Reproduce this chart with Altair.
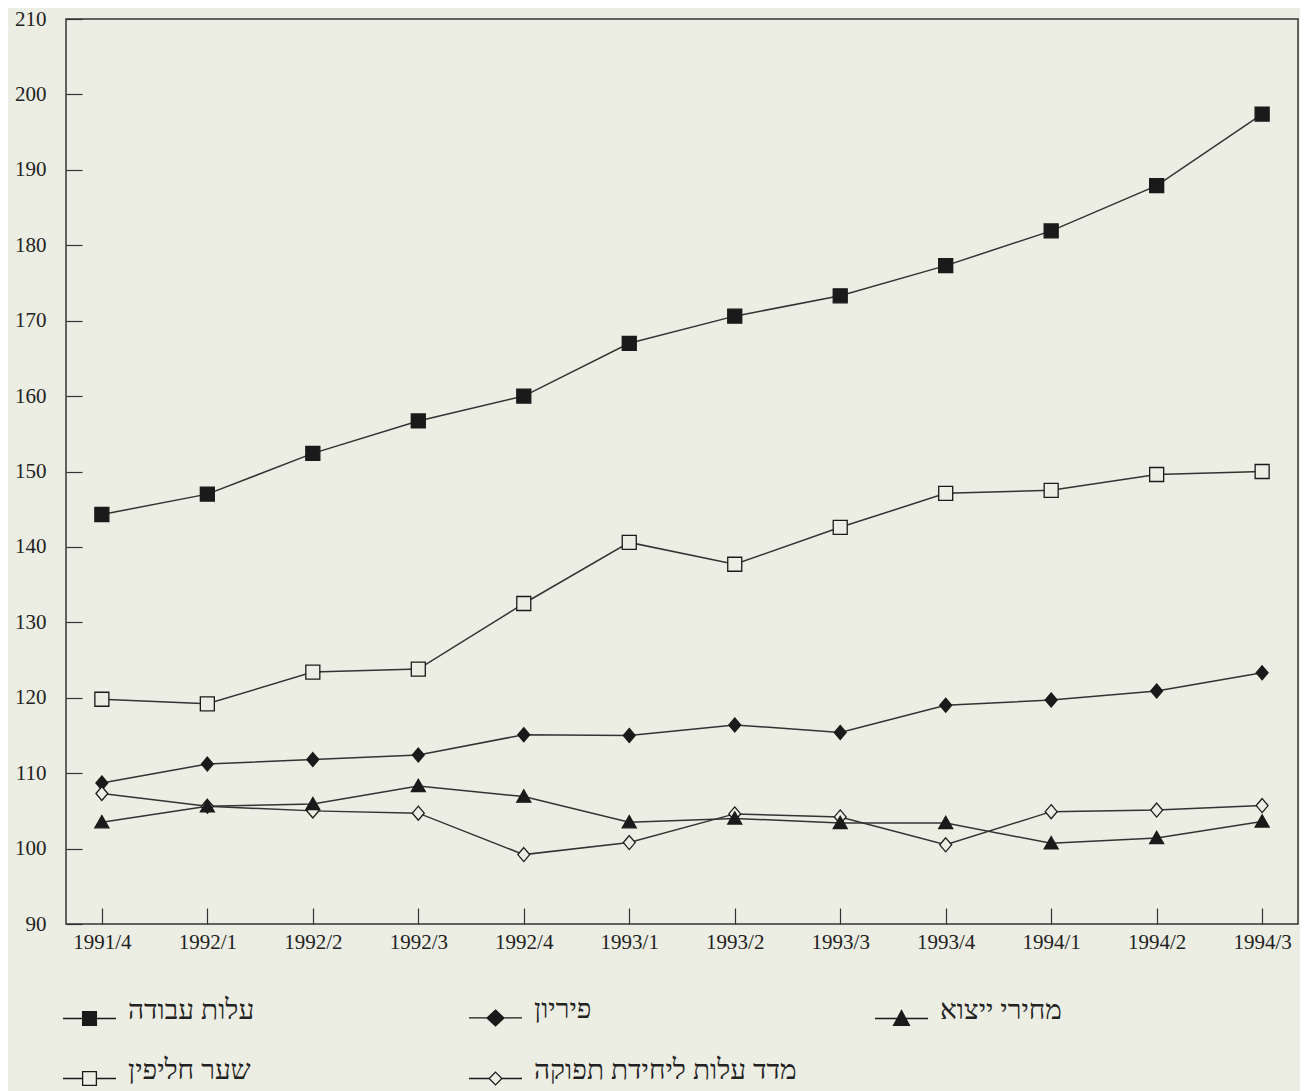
import altair as alt
import pandas as pd

quarters = ["1991/4", "1992/1", "1992/2", "1992/3", "1992/4", "1993/1",
            "1993/2", "1993/3", "1993/4", "1994/1", "1994/2", "1994/3"]

labor_cost = [144.3, 147.0, 152.4, 156.7, 160.0, 167.0, 170.6, 173.3, 177.3, 181.9, 187.9, 197.4]
exchange_rate = [119.8, 119.2, 123.4, 123.8, 132.5, 140.6, 137.7, 142.6, 147.1, 147.5, 149.6, 150.0]
productivity = [108.7, 111.2, 111.8, 112.4, 115.1, 115.0, 116.4, 115.4, 119.0, 119.7, 120.9, 123.3]
export_prices = [103.5, 105.6, 105.9, 108.3, 106.9, 103.5, 104.0, 103.4, 103.4, 100.7, 101.4, 103.6]
unit_cost = [107.3, 105.6, 105.0, 104.7, 99.2, 100.8, 104.6, 104.2, 100.5, 104.9, 105.1, 105.7]

# order = legend column-major order (col1: rows 1-2, col2: rows 1-2, col3)
series_names = ["עלות עבודה", "שער חליפין", "פיריון", "מדד עלות ליחידת תפוקה", "מחירי ייצוא"]
series_values = [labor_cost, exchange_rate, productivity, unit_cost, export_prices]

BG = "#ecede3"
INK = "#1a1a1a"

rows = []
for name, vals in zip(series_names, series_values):
    for i, (q, v) in enumerate(zip(quarters, vals)):
        rows.append({"series": name, "legend_series": name, "quarter": q, "idx": i, "value": v})
df = pd.DataFrame(rows)

fills = [INK, BG, INK, BG, INK]
strokes = [INK] * 5

plot_shapes = [
    "M-1,-1H1V1H-1Z",                 # filled square
    "M-1,-1H1V1H-1Z",                 # open square
    "M0,-1L0.85,0L0,1L-0.85,0Z",      # filled diamond
    "M0,-1L0.85,0L0,1L-0.85,0Z",      # open diamond
    "M0,-0.95L1,0.8L-1,0.8Z",         # triangle
]
plot_sizes = [196, 196, 300, 256, 256]

legend_shapes = [
    "M-1,0H1M-0.26,-0.26H0.26V0.26H-0.26Z",
    "M-1,0H-0.26M0.26,0H1M-0.26,-0.26H0.26V0.26H-0.26Z",
    "M-1,0H1M0,-0.3L0.32,0L0,0.3L-0.32,0Z",
    "M-1,0H-0.24M0.24,0H1M0,-0.24L0.24,0L0,0.24L-0.24,0Z",
    "M-1,0H1M0,-0.3L0.3,0.26L-0.3,0.26Z",
]

x_enc = alt.X("quarter:N", sort=quarters,
              scale=alt.Scale(type="point", padding=0.34),
              axis=alt.Axis(title=None, labelAngle=0, domain=False, tickSize=16,
                            offset=-16, labelPadding=7, tickColor="#333",
                            tickWidth=1.2, labelFont="Liberation Serif",
                            labelFontSize=21, labelColor="#222", grid=False))
y_enc = alt.Y("value:Q",
              scale=alt.Scale(domain=[90, 210], nice=False, zero=False),
              axis=alt.Axis(title=None, values=list(range(90, 211, 10)),
                            domain=False, tickSize=16, offset=-16, labelPadding=20,
                            tickColor="#333", tickWidth=1.2,
                            labelFont="Liberation Serif", labelFontSize=21,
                            labelColor="#222", grid=False))

legend_layer = alt.Chart(df).mark_point(opacity=0, size=2809, strokeWidth=1.3).encode(
    x=x_enc, y=y_enc,
    shape=alt.Shape("legend_series:N", title=None,
                    scale=alt.Scale(domain=series_names, range=legend_shapes),
                    legend=alt.Legend(orient="none", legendX=-4, legendY=971,
                                      columns=3, gridAlign="all",
                                      columnPadding=75, rowPadding=22,
                                      symbolOpacity=1, symbolStrokeColor=INK,
                                      symbolStrokeWidth=1.3, symbolSize=2809,
                                      labelFont="Liberation Serif", labelFontSize=28,
                                      labelColor="#222", labelOffset=11,
                                      labelBaseline="alphabetic", labelLimit=400)),
    fill=alt.Fill("legend_series:N", title=None,
                  scale=alt.Scale(domain=series_names, range=fills)),
    stroke=alt.Stroke("legend_series:N", title=None,
                      scale=alt.Scale(domain=series_names, range=strokes)),
)

lines = alt.Chart(df).mark_line(color="#333", strokeWidth=1.5).encode(
    x=x_enc, y=y_enc, detail="series:N", order="idx:Q")

points = alt.Chart(df).mark_point(filled=False, stroke=INK, strokeWidth=1.3, opacity=1).encode(
    x=x_enc, y=y_enc,
    shape=alt.Shape("series:N", scale=alt.Scale(domain=series_names, range=plot_shapes), legend=None),
    fill=alt.Fill("series:N", scale=alt.Scale(domain=series_names, range=fills), legend=None),
    size=alt.Size("series:N", scale=alt.Scale(domain=series_names, range=plot_sizes), legend=None),
)

chart = alt.layer(legend_layer, lines, points).resolve_scale(
    shape="independent", fill="independent", stroke="independent"
).resolve_legend(
    shape="independent", fill="independent", stroke="independent"
).properties(
    width=1232, height=905,
    background=BG,
    padding={"left": 58, "top": 11, "right": 2, "bottom": 175},
    autosize=alt.AutoSizeParams(type="none"),
).configure_view(stroke="#333", strokeWidth=1.5, fill=BG)

chart.save("out.html", embed_options={"renderer": "svg", "actions": False})
